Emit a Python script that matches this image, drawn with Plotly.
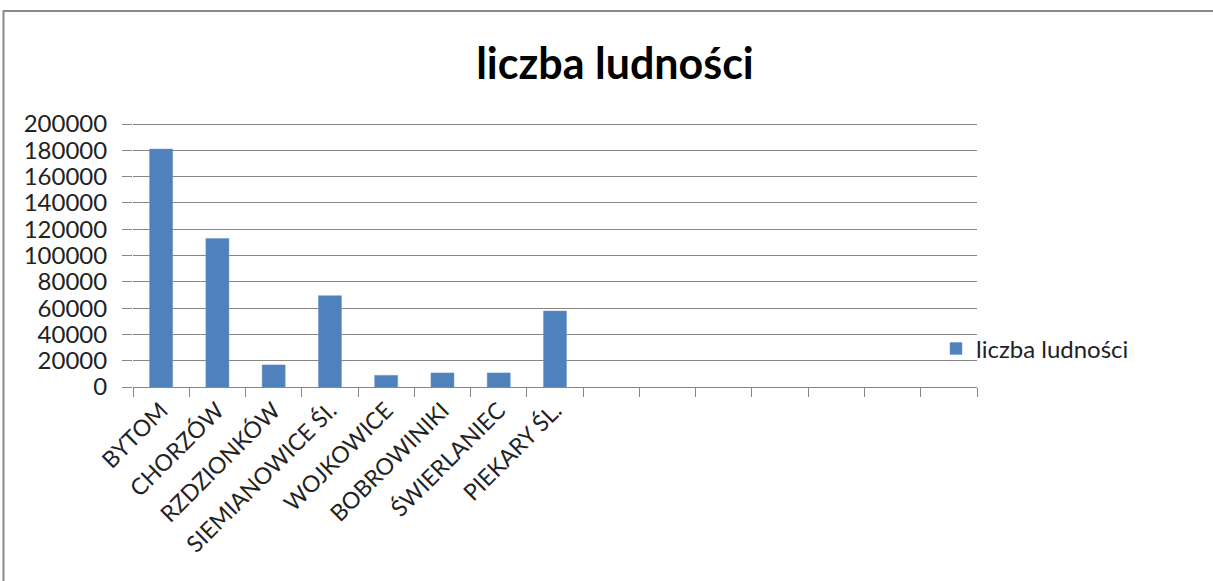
import plotly.graph_objects as go

categories = ["BYTOM", "CHORZÓW", "RZDZIONKÓW", "SIEMIANOWICE ŚI.", "WOJKOWICE",
              "BOBROWINIKI", "ŚWIERLANIEC", "PIEKARY ŚL."]
values = [181000, 113000, 16800, 69500, 8900, 10700, 10700, 57800]
n_slots = 15
series_name = "liczba ludności"
title_text = "liczba ludności"
y_ticks = list(range(0, 200001, 20000))

W, H = 1213, 581
L, R, T, B = 133, 236, 124, 194
pw, ph = W - L - R, H - T - B

font = "Lato, 'Open Sans', sans-serif"
grey = "#878787"

x = list(range(len(categories)))

fig = go.Figure()
fig.add_trace(go.Bar(
    x=x, y=values, name=series_name, width=0.41,
    marker=dict(color="#4F81BD", line=dict(color="#6f97c9", width=0.5)),
    showlegend=True,
))

fig.update_layout(
    width=W, height=H,
    margin=dict(l=L, r=R, t=T - 1, b=B, autoexpand=False),
    paper_bgcolor="white", plot_bgcolor="white",
    font=dict(family=font, size=23, color="#222222"),
    title=dict(text="<b>" + title_text + "</b>", x=615 / W, xanchor="center",
               y=1 - 64 / H, yanchor="middle",
               font=dict(family=font, size=43, color="black")),
    showlegend=True,
    legend=dict(x=(936 - L) / pw, y=(387 - 349) / ph, xanchor="left", yanchor="middle",
                bgcolor="rgba(0,0,0,0)", font=dict(size=24, color="#222222"),
                itemwidth=30, tracegroupgap=0),
)
fig.update_xaxes(
    range=[-0.5, n_slots - 0.5], tickvals=x, ticktext=categories, tickangle=-45,
    ticks="", showgrid=False, zeroline=False,
    showline=True, linecolor=grey, linewidth=1,
    tickfont=dict(family=font, size=23, color="#222222"),
    minor=dict(ticks="outside", tick0=-0.5, dtick=1, ticklen=9, tickcolor=grey,
               tickwidth=1, showgrid=False),
)
fig.update_yaxes(
    range=[0, 200800], tickvals=y_ticks, ticktext=[str(v) for v in y_ticks],
    ticks="outside", ticklen=10, tickcolor=grey, tickwidth=1,
    showgrid=True, gridcolor=grey, gridwidth=1, zeroline=False, showline=False,
    tickfont=dict(family=font, size=24, color="#222222"), ticklabelstandoff=10,
)

# outer chart frame (extends beyond the visible window to the right/bottom)
fig.add_shape(type="rect", xref="paper", yref="paper",
              x0=(3.5 - L) / pw, x1=(W + 20 - L) / pw,
              y0=(387 - (H + 20)) / ph, y1=(387 - 12.5) / ph,
              line=dict(color="#8a8a8a", width=2), fillcolor="rgba(0,0,0,0)", layer="below")

fig.write_html("out.html", config={"displayModeBar": False},
               post_script="document.body.style.margin='0';document.body.style.overflow='hidden';")
